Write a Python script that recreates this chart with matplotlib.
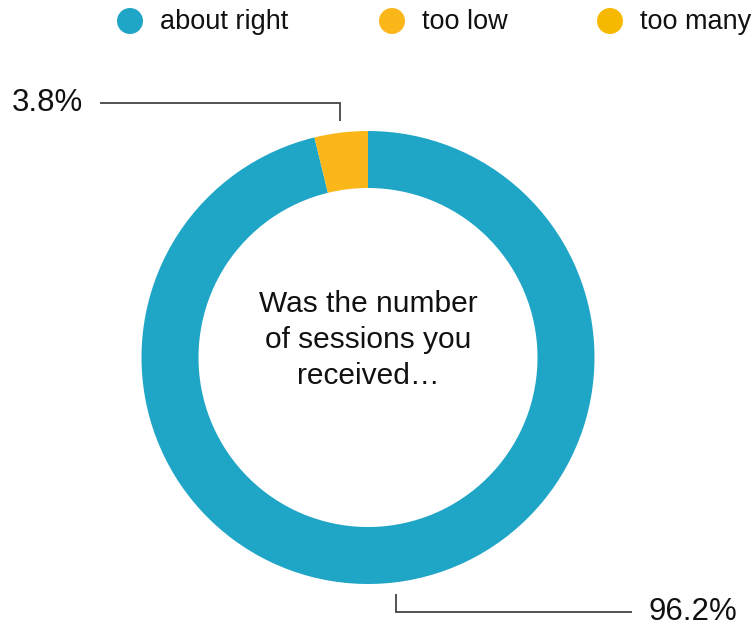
import numpy as np
import matplotlib
matplotlib.use("Agg")
import matplotlib.pyplot as plt

plt.rcParams['font.family'] = ['Liberation Sans', 'DejaVu Sans']

# Survey responses
categories = ["about right", "too low", "too many"]
shares = [96.2, 3.8, 0.0]
colors = ["#1fa5c6", "#fbb619", "#f7b900"]
center_text = "Was the number\nof sessions you\nreceived\u2026"

W, H = 755, 627
fig = plt.figure(figsize=(W / 100, H / 100), dpi=100)
ax = fig.add_axes([0, 0, 1, 1])
ax.set_xlim(0, W)
ax.set_ylim(0, H)
ax.set_aspect('equal')
ax.axis('off')

cx, cy = 368, H - 357.5
r_out, ring = 226.5, 57

wedges, _ = ax.pie(shares, colors=colors, radius=r_out, center=(cx, cy),
                   startangle=90, counterclock=False,
                   wedgeprops=dict(width=ring, linewidth=0))
ax.set_xlim(0, W)
ax.set_ylim(0, H)

ax.text(cx, H - 340, center_text, ha='center', va='center', fontsize=21.5,
        linespacing=1.37, color='#111111')

# Leader lines and value labels for non-empty slices
total = sum(shares)
start = 90.0
for val, w in zip(shares, wedges):
    sweep = val / total * 360
    mid = np.deg2rad(start - sweep / 2)
    start -= sweep
    if val <= 0:
        continue
    px = cx + (r_out + 12) * np.cos(mid)
    py = cy + (r_out + 12) * np.sin(mid)
    up = np.sin(mid) > 0
    ey = py + 18 if up else py - 18
    left = np.cos(mid) < 0
    ex = px - 240 if left else px + 236
    ax.plot([px, px, ex], [py, ey, ey], color='#444444', lw=1.3,
            solid_capstyle='butt', solid_joinstyle='miter')
    tx = ex - 17 if left else ex + 16
    ax.text(tx, ey, f"{val:.1f}%", ha='right' if left else 'left',
            va='center', fontsize=22.5, color='#111111')

# Legend row
leg_x = [130, 392, 610]
leg_y = H - 21
for x, lab, col in zip(leg_x, categories, colors):
    ax.add_patch(plt.Circle((x, leg_y), 13, color=col, lw=0))
    ax.text(x + 30, leg_y - 1, lab, ha='left', va='center', fontsize=19.5,
            color='#111111')

fig.savefig("out.png", dpi=100, facecolor='white')
